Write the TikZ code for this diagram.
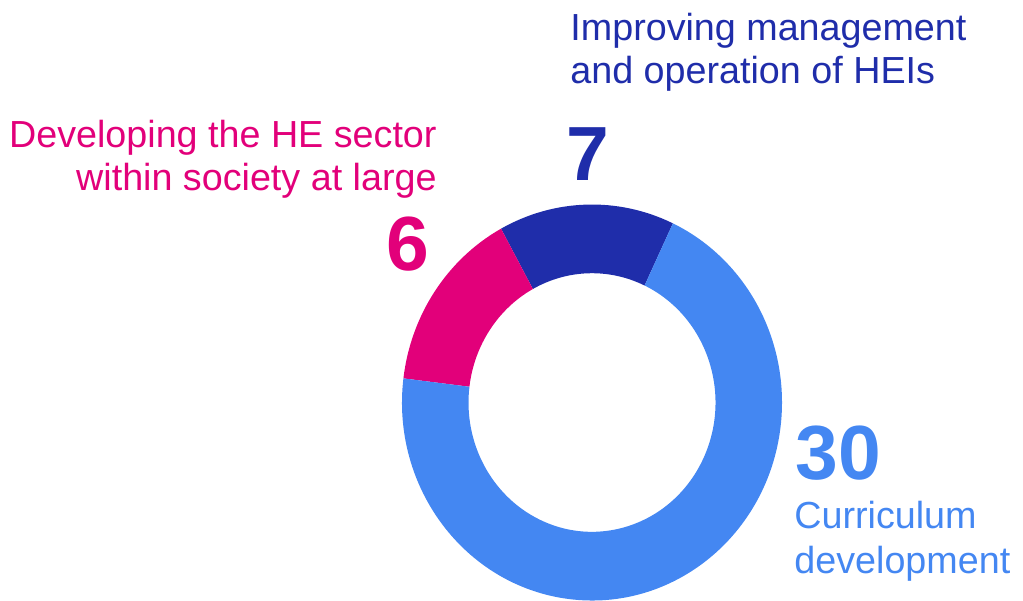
\documentclass[tikz,border=0pt]{standalone}
\usepackage{fontspec}
\setmainfont{Liberation Sans}
\usepackage{tikz}
\usetikzlibrary{positioning}

\definecolor{pinkseg}{HTML}{E2007A}
\definecolor{darkseg}{HTML}{1F2DAA}
\definecolor{lightseg}{HTML}{4487F2}

\tikzset{
  caption/.style={inner sep=0pt, font=\fontsize{18.85pt}{21.7pt}\selectfont},
  count/.style={inner sep=0pt, font=\fontsize{38.4pt}{40pt}\selectfont\bfseries}
}

\begin{document}
\begin{tikzpicture}[x=0.5pt,y=0.5pt]
\useasboundingbox (0,0) rectangle (1023,-600);
% ring, centre (592,-402.5)
\begin{scope}[shift={(592,-402.5)}]
\fill [darkseg] (64.8:190 and 198) arc [start angle=64.8, end angle=118.6, x radius=190, y radius=198]
  -- (118.6:123.5 and 129.3) arc [start angle=118.6, end angle=64.8, x radius=123.5, y radius=129.3] -- cycle;
\fill [pinkseg] (118.6:190 and 198) arc [start angle=118.6, end angle=173, x radius=190, y radius=198]
  -- (173:123.5 and 129.3) arc [start angle=173, end angle=118.6, x radius=123.5, y radius=129.3] -- cycle;
\fill [lightseg] (173:190 and 198) arc [start angle=173, end angle=424.8, x radius=190, y radius=198]
  -- (424.8:123.5 and 129.3) arc [start angle=424.8, end angle=173, x radius=123.5, y radius=129.3] -- cycle;
\end{scope}
% labels
\node [caption, darkseg, anchor=base west] (mgmt1) at (570,-40.7) {Improving management};
\node [caption, darkseg, anchor=base west] (mgmt2) at (570,-83.5) {and operation of HEIs};
\node [count, darkseg, anchor=base west] (mgmtn) at (566,-180) {7};
\node [caption, pinkseg, anchor=base east] (soc1) at (437,-147.3) {Developing the HE sector};
\node [caption, pinkseg, anchor=base east] (soc2) at (437,-190.5) {within society at large};
\node [count, pinkseg, anchor=base east] (socn) at (430,-270.5) {6};
\node [count, lightseg, anchor=base west] (curn) at (795,-479) {30};
\node [caption, lightseg, anchor=base west] (cur1) at (794,-528.3) {Curriculum};
\node [caption, lightseg, anchor=base west] (cur2) at (794,-573.3) {development};
\end{tikzpicture}
\end{document}
